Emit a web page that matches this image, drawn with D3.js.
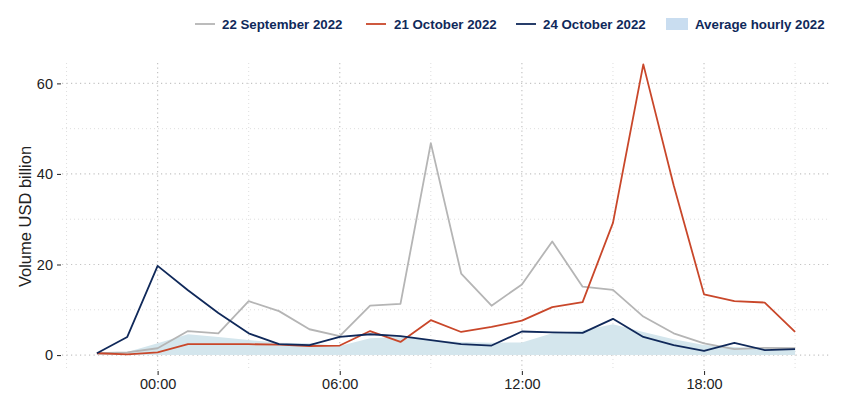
<!DOCTYPE html>
<html>
<head>
<meta charset="utf-8">
<script src="https://cdn.jsdelivr.net/npm/d3@7"></script>
<style>
  body { margin: 0; background: #fff; }
  #vis { width: 847px; height: 396px; }
  text { font-family: "Liberation Sans", Arial, sans-serif; }
</style>
</head>
<body>
<div id="vis"></div>
<script>
// hours relative to midnight (22:00 day before -> 21:00)
var hours = [-2, -1, 0, 1, 2, 3, 4, 5, 6, 7, 8, 9, 10, 11, 12, 13, 14, 15, 16, 17, 18, 19, 20, 21];

var sep22 = [0.4, 0.6, 1.5, 5.3, 4.8, 11.9, 9.7, 5.7, 4.2, 10.9, 11.3, 46.8, 18.0, 10.9, 15.6, 25.1, 15.1, 14.4, 8.5, 4.8, 2.6, 1.3, 1.6, 1.5];
var oct21 = [0.4, 0.15, 0.6, 2.4, 2.4, 2.4, 2.3, 2.0, 2.1, 5.3, 2.9, 7.7, 5.1, 6.2, 7.6, 10.6, 11.7, 29.2, 64.2, 37.5, 13.4, 11.9, 11.6, 5.1];
var oct24 = [0.4, 4.0, 19.7, 14.3, 9.3, 4.8, 2.4, 2.2, 4.0, 4.6, 4.2, 3.3, 2.4, 2.1, 5.2, 5.0, 4.9, 8.0, 4.0, 2.2, 0.9, 2.7, 1.1, 1.3];
var avg2022 = [0.3, 0.7, 2.6, 4.6, 4.0, 3.3, 2.7, 2.6, 2.0, 3.7, 4.0, 3.3, 2.9, 2.7, 2.8, 4.8, 5.4, 6.8, 5.1, 3.5, 2.2, 1.8, 1.5, 1.3];

var seriesNames = ["22 September 2022", "21 October 2022", "24 October 2022", "Average hourly 2022"];
var xTicks = [0, 6, 12, 18];
var xTickLabels = ["00:00", "06:00", "12:00", "18:00"];
var xMinor = [-3, 3, 9, 15, 21];
var yTicks = [0, 20, 40, 60];
var yMinor = [10, 30, 50];

var width = 847, height = 396;
var margin = { top: 63, left: 62, right: 17, bottom: 26 };

var svg = d3.select("#vis")
    .append("svg")
    .attr("width", width)
    .attr("height", height);

var xscale = d3.scaleLinear()
    .domain([-3.15, 22.15])
    .range([margin.left, width - margin.right]);

var yscale = d3.scaleLinear()
    .domain([-3.3, 64.5])
    .range([height - margin.bottom, margin.top]);

// grid
var grid = svg.append("g").attr("class", "grid");

grid.selectAll(".ymin")
    .data(yMinor).enter().append("line")
    .attr("x1", margin.left).attr("x2", width - margin.right)
    .attr("y1", function(d) { return yscale(d); })
    .attr("y2", function(d) { return yscale(d); })
    .attr("stroke", "#dedede").attr("stroke-dasharray", "1,3");

grid.selectAll(".xmin")
    .data(xMinor).enter().append("line")
    .attr("y1", margin.top).attr("y2", height - margin.bottom)
    .attr("x1", function(d) { return xscale(d); })
    .attr("x2", function(d) { return xscale(d); })
    .attr("stroke", "#dedede").attr("stroke-dasharray", "1,3");

grid.selectAll(".ymaj")
    .data(yTicks).enter().append("line")
    .attr("x1", margin.left).attr("x2", width - margin.right)
    .attr("y1", function(d) { return yscale(d); })
    .attr("y2", function(d) { return yscale(d); })
    .attr("stroke", "#c4c4c4").attr("stroke-width", 1.2).attr("stroke-dasharray", "1.2,3.3");

grid.selectAll(".xmaj")
    .data(xTicks).enter().append("line")
    .attr("y1", margin.top).attr("y2", height - margin.bottom)
    .attr("x1", function(d) { return xscale(d); })
    .attr("x2", function(d) { return xscale(d); })
    .attr("stroke", "#c4c4c4").attr("stroke-width", 1.2).attr("stroke-dasharray", "1.2,3.3");

// axes
var xaxis = d3.axisBottom(xscale)
    .tickValues(xTicks)
    .tickFormat(function(d, i) { return xTickLabels[i]; })
    .tickSize(4)
    .tickPadding(4);

var yaxis = d3.axisLeft(yscale)
    .tickValues(yTicks)
    .tickSize(4)
    .tickPadding(4);

var gx = svg.append("g")
    .attr("class", "x axis")
    .attr("transform", "translate(0," + (height - margin.bottom + 1) + ")")
    .call(xaxis);

var gy = svg.append("g")
    .attr("class", "y axis")
    .attr("transform", "translate(" + (margin.left - 1) + ",0)")
    .call(yaxis);

svg.selectAll(".axis .domain").remove();
svg.selectAll(".axis line").attr("stroke", "#333").attr("stroke-width", 1.1);
svg.selectAll(".axis text")
    .attr("fill", "#222")
    .style("font-size", "14.5px")
    .style("font-family", "Liberation Sans, Arial, sans-serif");

svg.append("text")
    .attr("transform", "rotate(-90)")
    .attr("x", 0 - (margin.top + height - margin.bottom) / 2)
    .attr("y", 31)
    .attr("fill", "#222")
    .style("font-size", "16.5px")
    .style("text-anchor", "middle")
    .text("Volume USD billion");

// average area
var rows = hours.map(function(h, i) {
    return { h: h, sep: sep22[i], o21: oct21[i], o24: oct24[i], avg: avg2022[i] };
});

var area = d3.area()
    .x(function(d) { return xscale(d.h); })
    .y0(yscale(0))
    .y1(function(d) { return yscale(d.avg); });

svg.append("path")
    .datum(rows)
    .attr("d", area)
    .attr("fill", "#d4e6ed");

var colors = ["#b5b5b5", "#c9472a", "#10295a"];
var keys = ["sep", "o21", "o24"];

keys.forEach(function(k, i) {
    var line = d3.line()
        .x(function(d) { return xscale(d.h); })
        .y(function(d) { return yscale(d[k]); });
    svg.append("path")
        .datum(rows)
        .attr("d", line)
        .attr("fill", "none")
        .attr("stroke", colors[i])
        .attr("stroke-width", 1.8)
        .attr("stroke-linejoin", "round");
});

// legend
var legendY = 24;
var legendItems = [
    { x: 195, tx: 222, type: "line", color: colors[0] },
    { x: 366, tx: 394, type: "line", color: colors[1] },
    { x: 516, tx: 543, type: "line", color: colors[2] },
    { x: 666, tx: 695, type: "rect", color: "#c9ddf0" }
];

var legend = svg.append("g").attr("class", "legend");
legendItems.forEach(function(d, i) {
    if (d.type == "line") {
        legend.append("line")
            .attr("x1", d.x).attr("x2", d.x + 20)
            .attr("y1", legendY).attr("y2", legendY)
            .attr("stroke", d.color).attr("stroke-width", 1.8);
    } else {
        legend.append("rect")
            .attr("x", d.x).attr("y", legendY - 6)
            .attr("width", 22).attr("height", 12)
            .attr("fill", d.color);
    }
    legend.append("text")
        .attr("x", d.tx)
        .attr("y", legendY)
        .attr("dy", "0.35em")
        .attr("fill", "#10295a")
        .style("font-size", "13.3px")
        .style("font-weight", "bold")
        .text(seriesNames[i]);
});
</script>
</body>
</html>
